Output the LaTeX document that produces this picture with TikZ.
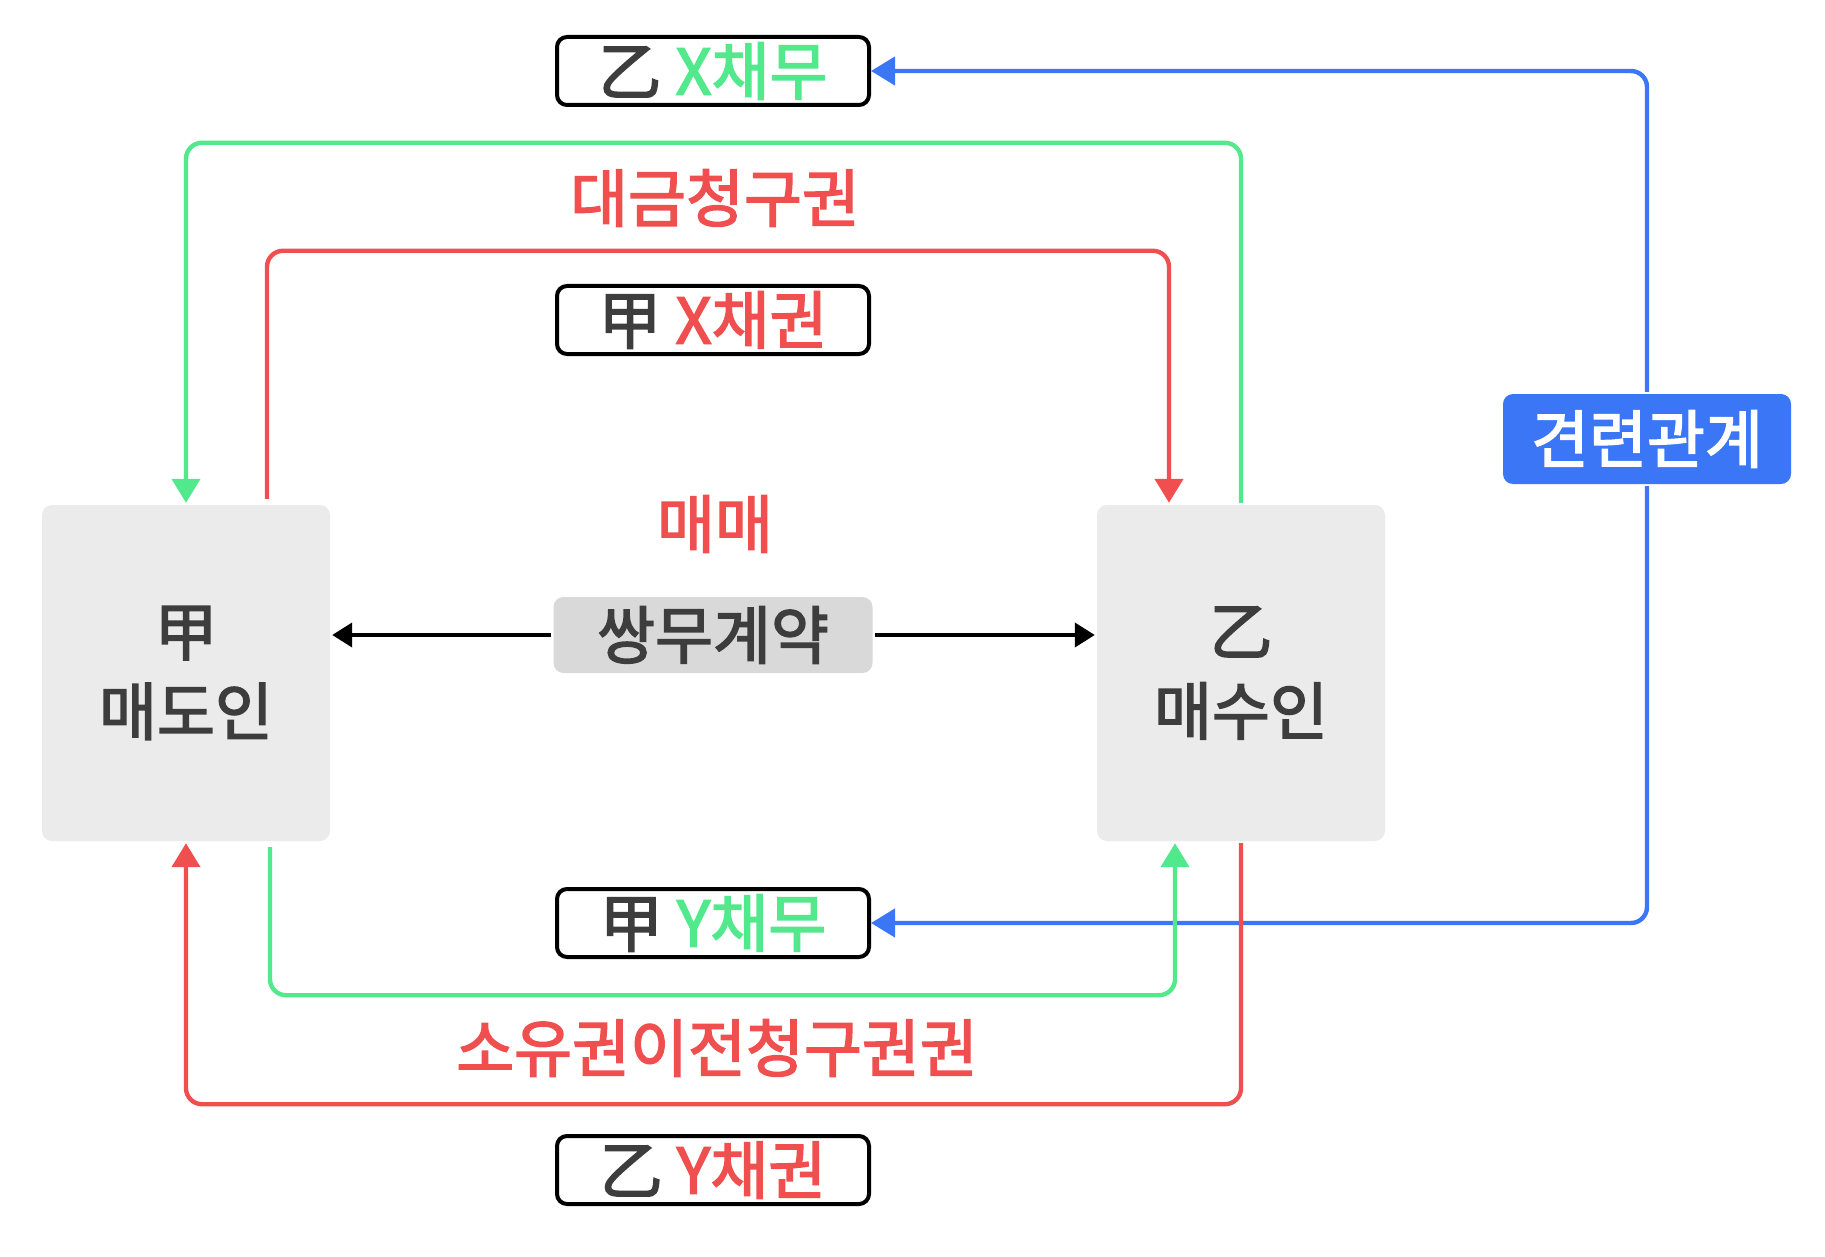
\documentclass[tikz,border=0pt]{standalone}
\usepackage{fontspec}
\setmainfont{Noto Sans CJK KR}[FakeBold=2.4]
\usetikzlibrary{arrows.meta}
\definecolor{grn}{HTML}{52E88C}
\definecolor{rd}{HTML}{F04F4F}
\definecolor{bl}{HTML}{3A76F5}
\definecolor{ink}{HTML}{3D3D3D}
\definecolor{lightgray}{HTML}{EBEBEB}
\definecolor{midgray}{HTML}{D9D9D9}
\tikzset{
    	every node/.append style={font=\fontsize{31.5}{40}\selectfont,text=ink}}

\begin{document}
\begin{tikzpicture}
  [x=50pt,y=-50pt,line width=2.2pt,>={Triangle[width=14pt,length=12pt]},
   party/.style={fill=lightgray,rounded corners=5pt,minimum width=144pt,minimum height=168pt,align=center},
   tag/.style={draw=black,line width=2pt,fill=white,rounded corners=5pt,minimum width=156pt,minimum height=34pt,inner sep=0pt}]
  \useasboundingbox (0,0) rectangle (18.25,12.57);
  \node [party] (seller) at (1.86,6.73) {甲\\매도인};
  \node [party] (buyer) at (12.41,6.73) {乙\\매수인};
  \node [fill=midgray,rounded corners=5pt,minimum width=159.5pt,minimum height=38pt,inner sep=0pt] (contract) at (7.13,6.35) {쌍무계약};
  \node [text=rd] (trade) at (7.15,5.24) {매매};
  \node [text=rd] (price) at (7.15,1.98) {대금청구권};
  \node [text=rd] (transfer) at (7.17,10.48) {소유권이전청구권권};
  \node [tag] (debtX) at (7.13,0.71) {乙 \textcolor{grn}{X채무}};
  \node [tag] (claimX) at (7.13,3.20) {甲 \textcolor{rd}{X채권}};
  \node [tag] (debtY) at (7.13,9.23) {甲 \textcolor{grn}{Y채무}};
  \node [tag] (claimY) at (7.13,11.70) {乙 \textcolor{rd}{Y채권}};
  \node [fill=bl,text=white,rounded corners=5pt,minimum width=144pt,minimum height=45pt,inner sep=0pt] (link) at (16.47,4.39) {견련관계};

  \draw [->, bl, rounded corners=8pt] (link.north) |- (debtX.east);
  \draw [->, bl, rounded corners=8pt] (link.south) |- (debtY.east);
  \draw [->, grn, rounded corners=8pt] (buyer.north) -- ++(0,-3.60) -| (seller.north);
  \draw [->, rd, rounded corners=8pt, shorten <=2pt] ([xshift=40.5pt]seller.north) -- ++(0,-2.52) -| ([xshift=-36pt]buyer.north);
  \draw [->, grn, rounded corners=8pt, shorten <=2pt] ([xshift=42pt]seller.south) -- ++(0,1.52) -| ([xshift=-33pt]buyer.south);
  \draw [->, rd, rounded corners=8pt] (buyer.south) -- ++(0,2.61) -| (seller.south);

  \foreach \from/\to in {contract.west/seller.east,contract.east/buyer.west}
    \draw [-{Triangle[width=12pt,length=10pt]}, line width=2pt] (\from) -- (\from -| \to);
\end{tikzpicture}
\end{document}
